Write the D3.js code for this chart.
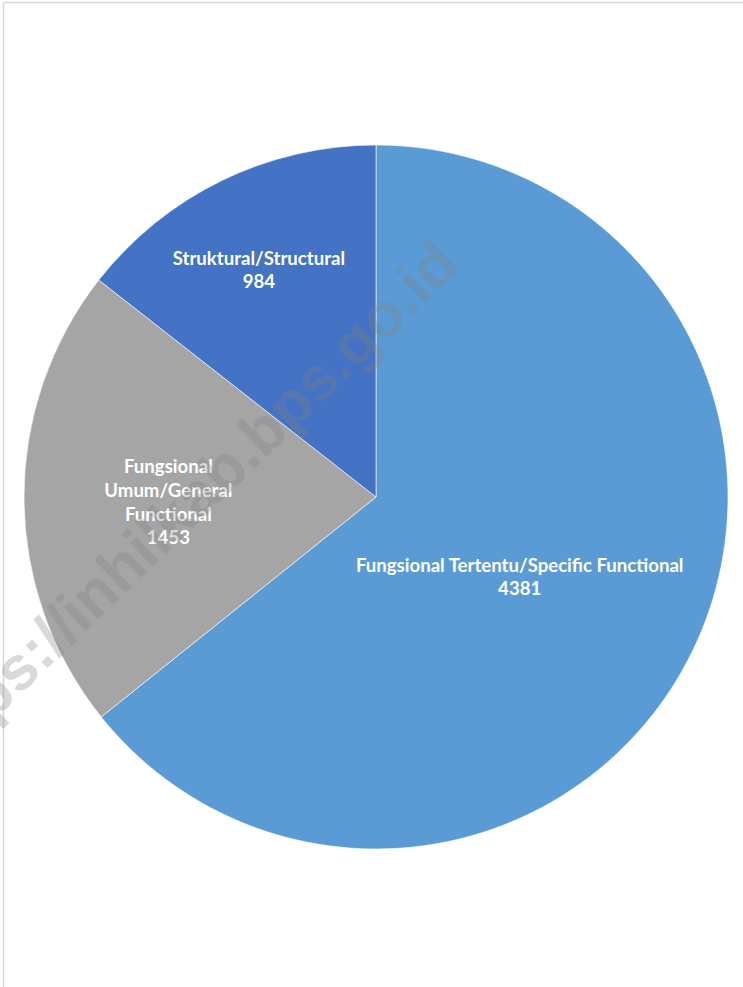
<!DOCTYPE html>
<html>
<head>
<meta charset="utf-8">
<script src="https://cdn.jsdelivr.net/npm/d3@7"></script>
<style>
  html, body { margin: 0; padding: 0; background: #ffffff; }
  svg { display: block; }
</style>
</head>
<body>
<svg id="chart" width="743" height="987"></svg>
<script>
// ---- data ----
const categories = [
  "Fungsional Tertentu/Specific Functional",
  "Fungsional Umum/General Functional",
  "Struktural/Structural"
];
const values = [4381, 1453, 984];
const colors = ["#5B9BD5", "#A5A5A5", "#4472C4"];
const watermarkText = "https://inhilkab.bps.go.id";

// ---- layout ----
const W = 743, H = 987;
const cx = 376, cy = 497, R = 352;
const labelRadiusFactor = [0.467, 0.59, 0.726];
const labelAngleNudgeDeg = [3.4, -1.1, -1.3];
const labelWrapWidth = [Infinity, 130, Infinity];
const fontSize = 18.6, lineH = 23.7, capH = 13.5;

const svg = d3.select("#chart");

// frame lines
svg.append("line").attr("x1", 3.5).attr("y1", 2.5).attr("x2", W).attr("y2", 2.5)
  .attr("stroke", "#d9d9d9").attr("stroke-width", 1.5);
svg.append("line").attr("x1", 3.5).attr("y1", 2.5).attr("x2", 3.5).attr("y2", H)
  .attr("stroke", "#d9d9d9").attr("stroke-width", 1.5);

const data = categories.map((c, i) => ({ cat: c, value: values[i], color: colors[i], i }));
const pie = d3.pie().sort(null).value(d => d.value).startAngle(0).endAngle(2 * Math.PI);
const arcs = pie(data);
const arc = d3.arc().innerRadius(0).outerRadius(R);

const g = svg.append("g").attr("transform", `translate(${cx},${cy})`);
g.selectAll("path.slice").data(arcs).join("path")
  .attr("class", "slice")
  .attr("d", arc)
  .attr("fill", d => d.data.color)
  .attr("stroke", "#ffffff")
  .attr("stroke-width", 1)
  .attr("stroke-opacity", 0.6);

// labels
const FONT = "Lato, 'Open Sans', sans-serif";
const measure = svg.append("text")
  .attr("font-family", FONT)
  .attr("font-weight", "bold").attr("font-size", fontSize).attr("visibility", "hidden");
function textWidth(s) { measure.text(s); return measure.node().getComputedTextLength(); }
function wrap(str, maxW) {
  const words = str.split(" ");
  const lines = [];
  let cur = "";
  words.forEach(w => {
    const t = cur ? cur + " " + w : w;
    if (cur && textWidth(t) > maxW) { lines.push(cur); cur = w; } else cur = t;
  });
  if (cur) lines.push(cur);
  return lines;
}

arcs.forEach(a => {
  const i = a.data.i;
  const lines = wrap(a.data.cat, labelWrapWidth[i]).concat([String(a.data.value)]);
  const mid = (a.startAngle + a.endAngle) / 2 + labelAngleNudgeDeg[i] * Math.PI / 180;
  const r = R * labelRadiusFactor[i];
  const lx = Math.sin(mid) * r;
  const ly = -Math.cos(mid) * r;
  const firstBase = ly - (lines.length - 1) * lineH / 2 + capH / 2;
  const t = g.append("text")
    .attr("font-family", FONT)
    .attr("font-weight", "bold")
    .attr("font-size", fontSize)
    .attr("fill", "#ffffff")
    .attr("text-anchor", "middle");
  lines.forEach((ln, k) => {
    t.append("tspan").attr("x", lx).attr("y", firstBase + k * lineH).text(ln);
  });
});
measure.remove();

// watermark
svg.append("text")
  .attr("transform", "translate(462,268) rotate(-44)")
  .attr("text-anchor", "end")
  .attr("font-family", "'Liberation Sans', Arial, sans-serif")
  .attr("font-weight", "bold")
  .attr("font-size", 62)
  .attr("fill", "#808080")
  .attr("fill-opacity", 0.3)
  .text(watermarkText);
</script>
</body>
</html>
